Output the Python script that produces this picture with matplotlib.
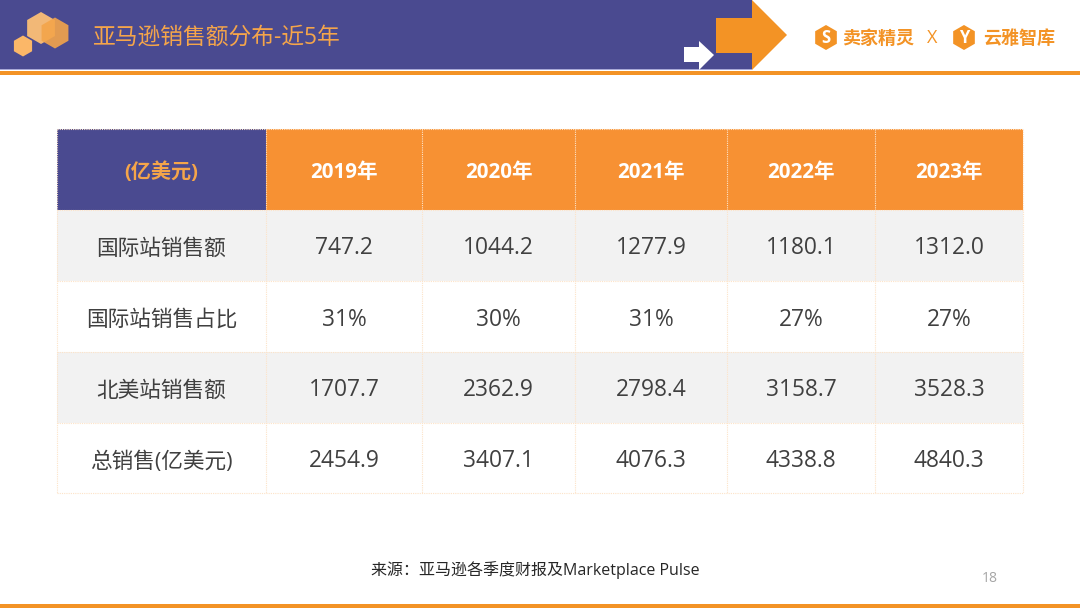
import matplotlib
matplotlib.use('Agg')
import matplotlib.pyplot as plt
from matplotlib.patches import Rectangle, Polygon, RegularPolygon

plt.rcParams['font.family'] = ['Open Sans', 'Noto Sans CJK SC', 'DejaVu Sans']

years = ['2019年', '2020年', '2021年', '2022年', '2023年']
row_names = ['国际站销售额', '国际站销售占比', '北美站销售额', '总销售(亿美元)']
intl_sales = ['747.2', '1044.2', '1277.9', '1180.1', '1312.0']
intl_share = ['31%', '30%', '31%', '27%', '27%']
na_sales = ['1707.7', '2362.9', '2798.4', '3158.7', '3528.3']
total_sales = ['2454.9', '3407.1', '4076.3', '4338.8', '4840.3']
rows = [intl_sales, intl_share, na_sales, total_sales]

navy = '#4A4A90'
orange = '#F39325'
head_orange = '#F79133'
light_orange = '#F5A54A'
grey_row = '#F2F2F2'
text_col = '#404040'
grid_col = '#FDE3C8'

col_x = [57, 266, 422, 575, 727, 875, 1023]
row_y = [129, 210, 281, 352, 423, 493]

fig = plt.figure(figsize=(10.8, 6.08), dpi=100)
ax = fig.add_axes([0, 0, 1, 1])
ax.set_xlim(0, 1080)
ax.set_ylim(608, 0)
ax.axis('off')

# header band
ax.add_patch(Rectangle((0, 0), 752, 69, fc=navy, ec='none'))
ax.add_patch(Rectangle((0, 69), 752, 1, fc='#A9A9D6', ec='none'))
ax.add_patch(Rectangle((0, 71), 1080, 4, fc=orange, ec='none'))
ax.add_patch(Rectangle((0, 604), 1080, 4, fc=orange, ec='none'))
ax.add_patch(Polygon([(716, 18), (752, 18), (752, 0), (787, 35), (752, 70), (752, 53), (716, 53)],
                     fc=orange, ec='none'))
ax.add_patch(Polygon([(684, 47), (699, 47), (699, 41), (714, 55), (699, 70), (699, 62), (684, 62)],
                     fc='white', ec='none'))

# hexagons
ax.add_patch(RegularPolygon((41, 28), 6, radius=16, fc='#F2B877', ec='none', zorder=3))
ax.add_patch(RegularPolygon((55, 33), 6, radius=15.5, fc='#F4A54A', ec='none', alpha=0.9, zorder=4))
ax.add_patch(RegularPolygon((23, 46), 6, radius=10.5, fc='#FBB768', ec='none', zorder=3))
ax.text(93, 38, '亚马逊销售额分布-近5年', fontsize=16.4, color=light_orange, va='center', ha='left')

# logos
ax.add_patch(RegularPolygon((826, 37.5), 6, radius=12.5, fc=orange, ec='none'))
ax.text(826, 38, 'S', fontsize=12, fontweight='bold', color='white', ha='center', va='center')
ax.text(878, 39, '卖家精灵', fontsize=13, fontweight='bold', color=orange, ha='center', va='center')
ax.text(932, 38, 'X', fontsize=13, color=orange, ha='center', va='center')
ax.add_patch(RegularPolygon((964, 37.5), 6, radius=12.5, fc=orange, ec='none'))
ax.text(964, 38, 'Y', fontsize=12, fontweight='bold', color='white', ha='center', va='center')
ax.text(1019, 39, '云雅智库', fontsize=13, fontweight='bold', color=orange, ha='center', va='center')

# table fills
ax.add_patch(Rectangle((col_x[0], row_y[0]), col_x[1] - col_x[0], row_y[1] - row_y[0], fc=navy, ec='none'))
ax.add_patch(Rectangle((col_x[1], row_y[0]), col_x[-1] - col_x[1], row_y[1] - row_y[0], fc=head_orange, ec='none'))
for i in [0, 2]:
    ax.add_patch(Rectangle((col_x[0], row_y[i + 1]), col_x[-1] - col_x[0], row_y[i + 2] - row_y[i + 1],
                           fc=grey_row, ec='none'))

# dotted cell borders
for x in col_x:
    ax.plot([x, x], [row_y[0], row_y[-1]], color=grid_col, lw=0.8, ls=(0, (1, 1)), zorder=2)
for y in row_y:
    ax.plot([col_x[0], col_x[-1]], [y, y], color=grid_col, lw=0.8, ls=(0, (1, 1)), zorder=2)

# header text
ax.text((col_x[0] + col_x[1]) / 2, 173, '(亿美元)', fontsize=14.5, fontweight='bold',
        color=light_orange, ha='center', va='center', zorder=5)
for j, year in enumerate(years):
    ax.text((col_x[j + 1] + col_x[j + 2]) / 2, 173, year, fontsize=14.8, fontweight='bold',
            color='white', ha='center', va='center', zorder=5)

# body text
for i, name in enumerate(row_names):
    yc = (row_y[i + 1] + row_y[i + 2]) / 2 + 4
    ax.text((col_x[0] + col_x[1]) / 2, yc, name, fontsize=15.6, color=text_col,
            ha='center', va='center', zorder=5)
    for j, val in enumerate(rows[i]):
        ax.text((col_x[j + 1] + col_x[j + 2]) / 2, yc - 1, val, fontsize=16.4, color=text_col,
                ha='center', va='center', zorder=5)

ax.text(371, 570, '来源：亚马逊各季度财报及Marketplace Pulse', fontsize=11.5, color='#262626', ha='left', va='center')
ax.text(990, 579, '18', fontsize=10, color='#A6A6A6', ha='center', va='center')

fig.savefig('out.png', dpi=100)
